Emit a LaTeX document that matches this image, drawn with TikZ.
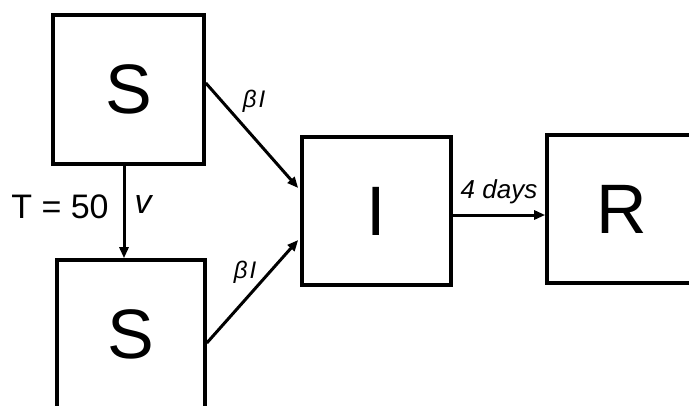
\documentclass[tikz,border=0pt]{standalone}
\usepackage{fontspec}
\setmainfont{Liberation Sans}
\usetikzlibrary{arrows.meta}
\begin{document}
\begin{tikzpicture}[x=1pt,y=-1pt,
  compartment/.style={draw=black,line width=3.6pt,fill=white,rectangle,
    inner sep=0pt,font=\fontsize{70}{70}\selectfont},
  flow/.style={line width=3pt,-{Triangle[length=11pt,width=9pt]}},
  rate/.style={inner sep=0pt,font=\fontsize{24}{24}\selectfont\itshape},
  note/.style={inner sep=0pt,font=\fontsize{34}{34}\selectfont}]
  \useasboundingbox (0,0) rectangle (689,405);
  \clip (0,0) rectangle (689,405);
  \fill[white] (0,0) rectangle (689,405);

  % compartments
  \node[compartment,minimum width=151pt,minimum height=149pt] (s1) at (128.5,89.5) {S};
  \node[compartment,minimum width=148pt,minimum height=149pt] (s2) at (131,334.5) {S};
  \node[compartment,minimum width=149pt,minimum height=148pt] (i) at (376.5,211) {I};
  \node[compartment,minimum width=149pt,minimum height=148pt] (r) at (621.5,209) {R};

  % flows between compartments
  \draw[flow] ([yshift=6.5pt]s1.east) -- ([xshift=-2pt,yshift=23pt]i.west);
  \draw[flow] ([yshift=-8.5pt]s2.east) -- ([xshift=-2pt,yshift=-29pt]i.west);
  \draw[flow] ([xshift=-4.5pt]s1.south) -- ([xshift=-4.5pt]s1.south |- s2.north);
  \draw[flow] ([yshift=-4pt]i.east) -- ([yshift=-4pt]i.east -| r.west);

  % rate labels
  \node[rate] (b1) at (254,101) {β\kern2pt I};
  \node[rate] (b2) at (245,272) {β\kern2pt I};
  \node[rate,font=\fontsize{26}{26}\selectfont\itshape] (d) at (499,192) {4 days};
  \node[note] (t) at (60,207) {T = 50};
  \node[note,font=\fontsize{34}{34}\selectfont\itshape] (v) at (143,205) {v};
\end{tikzpicture}
\end{document}
